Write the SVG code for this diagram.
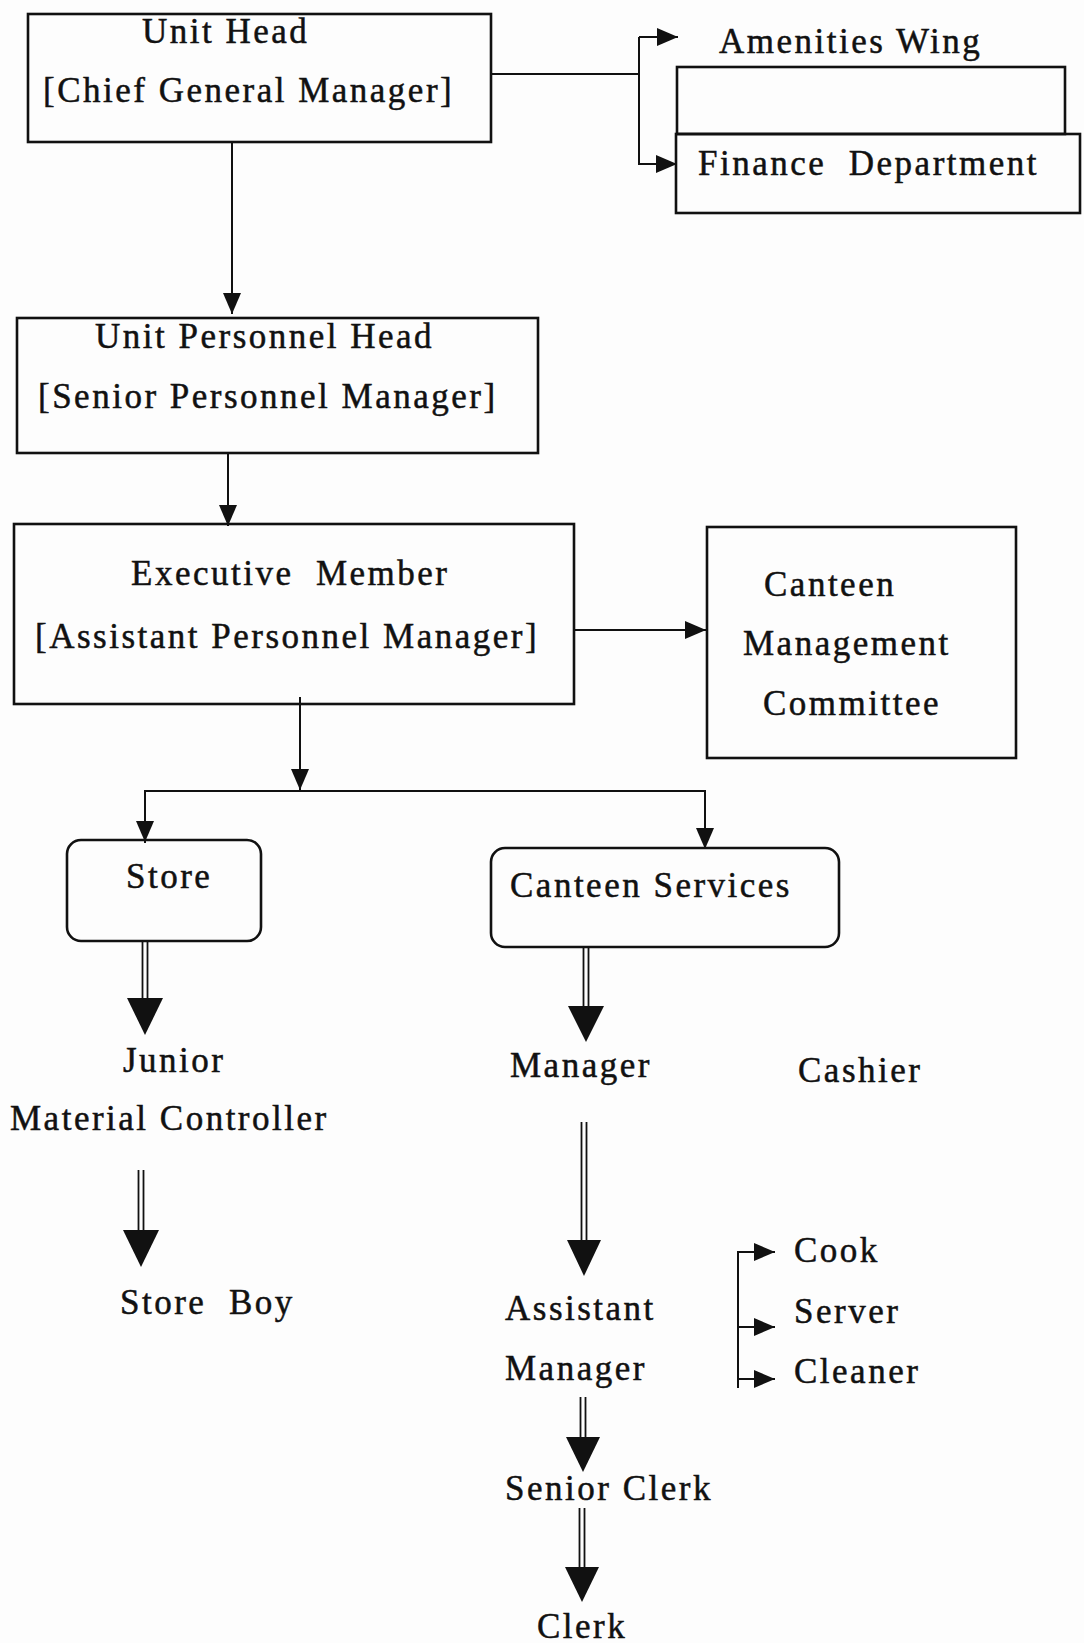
<svg xmlns="http://www.w3.org/2000/svg" width="1084" height="1643" viewBox="0 0 1084 1643">
<style>
.bg{fill:#fdfdfd}
.box{fill:none;stroke:#111;stroke-width:2.6}
.ln{fill:none;stroke:#111;stroke-width:2}
.dl{fill:none;stroke:#111;stroke-width:1.8}
.hd{fill:#111}
text{font-family:"Liberation Serif","Times New Roman",serif;font-size:35px;letter-spacing:2.5px;fill:#111;stroke:#111;stroke-width:0.5}
</style>
<defs>
<marker id="arr" markerUnits="userSpaceOnUse" markerWidth="22" markerHeight="18" refX="21" refY="9" orient="auto">
<path d="M0,0 L21,9 L0,18 Z" fill="#111"/>
</marker>
</defs>
<rect class="bg" x="0" y="0" width="1084" height="1643"/>

<g id="connectors">
<line class="ln" x1="232" y1="142" x2="232" y2="314" marker-end="url(#arr)"/>
<polyline class="ln" points="491,74 639,74"/>
<line class="ln" x1="639" y1="37" x2="639" y2="165"/>
<line class="ln" x1="639" y1="37" x2="678" y2="37" marker-end="url(#arr)"/>
<line class="ln" x1="639" y1="164" x2="677" y2="164" marker-end="url(#arr)"/>
<line class="ln" x1="228" y1="453" x2="228" y2="526" marker-end="url(#arr)"/>
<line class="ln" x1="574" y1="630" x2="706" y2="630" marker-end="url(#arr)"/>
<line class="ln" x1="300" y1="697" x2="300" y2="790" marker-end="url(#arr)"/>
<polyline class="ln" points="145,843 145,791 705,791 705,849"/>
<line class="ln" x1="145" y1="820" x2="145" y2="842" marker-end="url(#arr)"/>
<line class="ln" x1="705" y1="828" x2="705" y2="849" marker-end="url(#arr)"/>

<g id="dbl-store1"><line class="dl" x1="142.5" y1="940" x2="142.5" y2="1000"/><line class="dl" x1="147.5" y1="940" x2="147.5" y2="1000"/><polygon class="hd" points="127,998 163,998 145,1035"/></g>
<g id="dbl-store2"><line class="dl" x1="138.5" y1="1170" x2="138.5" y2="1232"/><line class="dl" x1="143.5" y1="1170" x2="143.5" y2="1232"/><polygon class="hd" points="123,1230 159,1230 141,1267"/></g>
<g id="dbl-cs"><line class="dl" x1="583.5" y1="947" x2="583.5" y2="1008"/><line class="dl" x1="588.5" y1="947" x2="588.5" y2="1008"/><polygon class="hd" points="568,1006 604,1006 586,1042"/></g>
<g id="dbl-mgr"><line class="dl" x1="581.5" y1="1122" x2="581.5" y2="1242"/><line class="dl" x1="586.5" y1="1122" x2="586.5" y2="1242"/><polygon class="hd" points="567,1240 601,1240 584,1276"/></g>
<g id="dbl-am"><line class="dl" x1="580.5" y1="1397" x2="580.5" y2="1439"/><line class="dl" x1="585.5" y1="1397" x2="585.5" y2="1439"/><polygon class="hd" points="566,1437 600,1437 583,1472"/></g>
<g id="dbl-sc"><line class="dl" x1="579.5" y1="1508" x2="579.5" y2="1569"/><line class="dl" x1="584.5" y1="1508" x2="584.5" y2="1569"/><polygon class="hd" points="565,1567 599,1567 582,1602"/></g>

<line class="ln" x1="738" y1="1251" x2="738" y2="1388"/>
<line class="ln" x1="737" y1="1252" x2="775" y2="1252" marker-end="url(#arr)"/>
<line class="ln" x1="738" y1="1327" x2="775" y2="1327" marker-end="url(#arr)"/>
<line class="ln" x1="737" y1="1379" x2="775" y2="1379" marker-end="url(#arr)"/>
</g>

<g id="unit-head">
<rect class="box" x="28" y="14" width="463" height="128"/>
<text x="142" y="43">Unit Head</text>
<text x="43" y="102">[Chief General Manager]</text>
</g>

<g id="amenities-wing">
<text x="719" y="53">Amenities Wing</text>
<rect class="box" x="677" y="67" width="388" height="67"/>
</g>

<g id="finance-department">
<rect class="box" x="676" y="134" width="404" height="79"/>
<text x="698" y="175" xml:space="preserve">Finance  Department</text>
</g>

<g id="unit-personnel-head">
<rect class="box" x="17" y="318" width="521" height="135"/>
<text x="95" y="348">Unit Personnel Head</text>
<text x="38" y="408">[Senior Personnel Manager]</text>
</g>

<g id="executive-member">
<rect class="box" x="14" y="524" width="560" height="180"/>
<text x="131" y="585" xml:space="preserve">Executive  Member</text>
<text x="35" y="648">[Assistant Personnel Manager]</text>
</g>

<g id="canteen-management-committee">
<rect class="box" x="707" y="527" width="309" height="231"/>
<text x="764" y="596">Canteen</text>
<text x="743" y="655">Management</text>
<text x="763" y="715">Committee</text>
</g>

<g id="store">
<rect class="box" x="67" y="840" width="194" height="101" rx="14"/>
<text x="126" y="888">Store</text>
</g>

<g id="canteen-services">
<rect class="box" x="491" y="848" width="348" height="99" rx="14"/>
<text x="510" y="897">Canteen Services</text>
</g>

<g id="junior-material-controller">
<text x="123" y="1072">Junior</text>
<text x="10" y="1130">Material Controller</text>
</g>

<g id="store-boy">
<text x="120" y="1314" xml:space="preserve">Store  Boy</text>
</g>

<g id="manager"><text x="510" y="1077">Manager</text></g>
<g id="cashier"><text x="798" y="1082">Cashier</text></g>

<g id="assistant-manager">
<text x="505" y="1320">Assistant</text>
<text x="505" y="1380">Manager</text>
</g>

<g id="cook"><text x="794" y="1262">Cook</text></g>
<g id="server"><text x="794" y="1323">Server</text></g>
<g id="cleaner"><text x="794" y="1383">Cleaner</text></g>

<g id="senior-clerk"><text x="505" y="1500">Senior Clerk</text></g>
<g id="clerk"><text x="537" y="1638">Clerk</text></g>
</svg>
